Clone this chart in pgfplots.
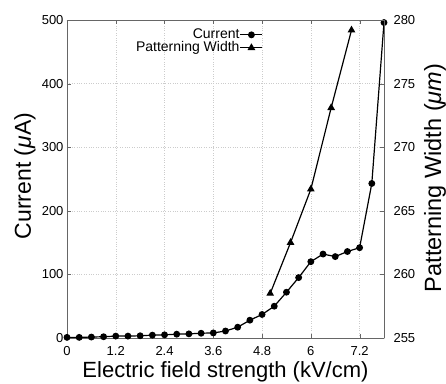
\documentclass[border=0pt]{standalone}
\usepackage{pgfplots}
\pgfplotsset{compat=1.18}
\usepackage{fontspec}
\setmainfont{Liberation Sans}
\begin{document}
\begin{tikzpicture}
\path[use as bounding box] (-67pt,-45pt) rectangle (379pt,338pt);
\begin{axis}[
  at={(0,0)}, anchor=south west,
  scale only axis, width=317pt, height=318pt,
  xmin=0, xmax=7.8, ymin=0, ymax=500,
  xtick={0,1.2,2.4,3.6,4.8,6,7.2},
  xticklabels={0,1.2,2.4,3.6,4.8,6,7.2},
  ytick={0,100,200,300,400,500},
  axis y line*=left,
  /pgf/number format/assume math mode=true,
  tick label style={font=\fontsize{13}{13}\selectfont},
  xlabel={Electric field strength (kV/cm)},
  ylabel={Current (\textit{μ}A)},
  xlabel style={font=\fontsize{22}{24}\selectfont, at={(axis description cs:0.5,0)}, anchor=base, yshift=-39pt},
  ylabel style={font=\fontsize{23}{24}\selectfont, at={(axis description cs:0,0.5)}, anchor=center, xshift=3pt, yshift=42pt},
  xticklabel style={anchor=north, yshift=-8pt, inner sep=0pt},
  grid=major,
  major grid style={dotted, gray!40},
  axis line style={gray!80!black},
  tick style={gray!80!black, major tick length=4pt},
  tick align=inside,
  xtick pos=both,
  legend plot pos=right,
  legend cell align=right,
  legend image code/.code={\draw[mark repeat=2,mark phase=2,#1] plot coordinates {(0pt,0pt) (11pt,0pt) (22pt,0pt)};},
  legend style={draw=none, fill=none, font=\fontsize{14}{14}\selectfont,
    at={(0.619,0.975)}, anchor=north east, row sep=-0.5pt, inner sep=0pt,
    nodes={text height=10.2pt, text depth=2.6pt, inner sep=0.3pt}},
]
\addplot[black, line width=1.2pt, mark=*, mark size=2.8pt] coordinates {
(0,1) (0.3,1) (0.6,1.5) (0.9,2) (1.2,3) (1.5,3) (1.8,3.5) (2.1,4.5) (2.4,5)
(2.7,6) (3.0,6.5) (3.3,7.5) (3.6,8) (3.9,11) (4.2,17) (4.5,28) (4.8,37)
(5.1,50) (5.4,72) (5.7,95) (6.0,120) (6.3,132) (6.6,128) (6.9,136) (7.2,142)
(7.5,243) (7.8,496)};
\addlegendentry{Current}
\addlegendimage{black, line width=1.2pt, mark=triangle*, mark size=3.3pt}
\addlegendentry{Patterning Width}
\end{axis}
\begin{axis}[
  at={(0,0)}, anchor=south west,
  scale only axis, width=317pt, height=318pt,
  xmin=0, xmax=7.8, ymin=255, ymax=280,
  axis y line*=right, axis x line=none,
  ytick={255,260,265,270,275,280},
  /pgf/number format/assume math mode=true,
  tick label style={font=\fontsize{13}{13}\selectfont},
  ylabel={Patterning Width (\textit{μm})},
  ylabel style={font=\fontsize{23.5}{24}\selectfont, at={(axis description cs:1,0.5)}, anchor=center, xshift=1pt, yshift=-51pt},
  yticklabel style={xshift=6pt},
  axis line style={gray!80!black},
  tick style={gray!80!black, major tick length=4pt},
  tick align=inside,
]
\addplot[black, line width=1.2pt, mark=triangle*, mark size=3.3pt] coordinates {
(5.0,258.5) (5.5,262.5) (6.0,266.7) (6.5,273.1) (7.0,279.2)};
\end{axis}
\end{tikzpicture}
\end{document}
